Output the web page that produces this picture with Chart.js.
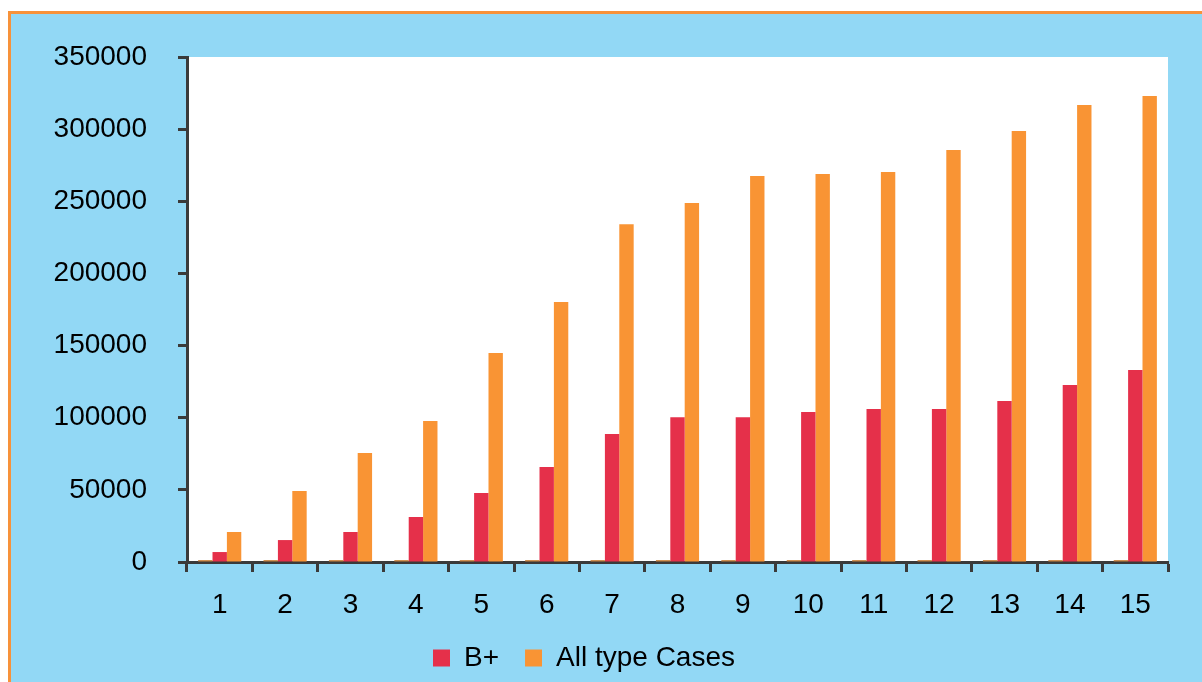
<!DOCTYPE html>
<html>
<head>
<meta charset="utf-8">
<script src="https://cdn.jsdelivr.net/npm/chart.js@4"></script>
<style>
  html, body { margin: 0; padding: 0; background: #ffffff; }
  #wrap { position: absolute; left: 0; top: 0; width: 1202px; height: 682px; }
</style>
</head>
<body>
<div id="wrap"><canvas id="chart" width="1202" height="682"></canvas></div>
<script>
// categories and series
const categories = ['1', '2', '3', '4', '5', '6', '7', '8', '9', '10', '11', '12', '13', '14', '15'];
const hiddenSeries = [1300, 1300, 1300, 1300, 1300, 1300, 1300, 1300, 1300, 1300, 1300, 1300, 1300, 1300, 1300];
const bPlus = [6900, 15200, 20800, 31200, 47800, 65800, 88700, 100300, 100300, 104000, 106000, 106000, 111600, 122700, 133000];
const allCases = [20800, 49200, 75500, 97700, 144900, 180200, 234000, 248800, 267500, 268900, 270300, 285500, 298700, 316700, 323000];
const yTicks = [0, 50000, 100000, 150000, 200000, 250000, 300000, 350000];

const axisColor = '#3a3a3a';
const font = { family: 'Liberation Sans, Arial, sans-serif', size: 28 };

// background: blue panel with orange frame, white plot area
const framePlugin = {
    id: 'frame',
    beforeDraw(chart) {
        const c = chart.ctx;
        const a = chart.chartArea;
        c.save();
        c.fillStyle = '#ffffff';
        c.fillRect(0, 0, chart.width, chart.height);
        c.fillStyle = '#92d8f5';
        c.fillRect(10, 13, chart.width - 10, chart.height - 13);
        c.fillStyle = '#f7923a';
        c.fillRect(8, 11, 3, chart.height - 11);
        c.fillRect(8, 11, chart.width - 8, 3);
        c.fillStyle = '#ffffff';
        c.fillRect(a.left, a.top, a.right - a.left, a.bottom - a.top);
        c.restore();
    }
};

new Chart(document.getElementById('chart'), {
    type: 'bar',
    data: {
        labels: categories,
        datasets: [
            {
                label: '',
                data: hiddenSeries,
                backgroundColor: '#c8803a',
                barPercentage: 1,
                categoryPercentage: 0.66
            },
            {
                label: 'B+',
                data: bPlus,
                backgroundColor: '#e5304a',
                barPercentage: 1,
                categoryPercentage: 0.66
            },
            {
                label: 'All type Cases',
                data: allCases,
                backgroundColor: '#f99434',
                barPercentage: 1,
                categoryPercentage: 0.66
            }
        ]
    },
    options: {
        responsive: false,
        animation: false,
        layout: { padding: { top: 57, right: 34, left: 0, bottom: 0 } },
        plugins: {
            tooltip: { enabled: false },
            legend: {
                position: 'bottom',
                labels: {
                    font: font,
                    color: '#000000',
                    boxWidth: 17,
                    boxHeight: 17,
                    padding: 26,
                    filter: item => item.text !== ''
                }
            }
        },
        scales: {
            x: {
                grid: {
                    offset: true,
                    drawOnChartArea: false,
                    tickLength: 10,
                    tickWidth: 3,
                    tickColor: axisColor
                },
                border: { color: axisColor, width: 3 },
                ticks: { font: font, color: '#000000', padding: 16, maxRotation: 0 },
                afterFit(scale) { scale.height = 56; }
            },
            y: {
                min: 0,
                max: 350000,
                afterBuildTicks(scale) { scale.ticks = yTicks.map(v => ({ value: v })); },
                grid: {
                    drawOnChartArea: false,
                    tickLength: 9,
                    tickWidth: 3,
                    tickColor: axisColor
                },
                border: { color: axisColor, width: 3 },
                ticks: { font: font, color: '#000000', padding: 31, callback: v => String(v) },
                afterFit(scale) { scale.width = 187; }
            }
        }
    },
    plugins: [framePlugin]
});
</script>
</body>
</html>
